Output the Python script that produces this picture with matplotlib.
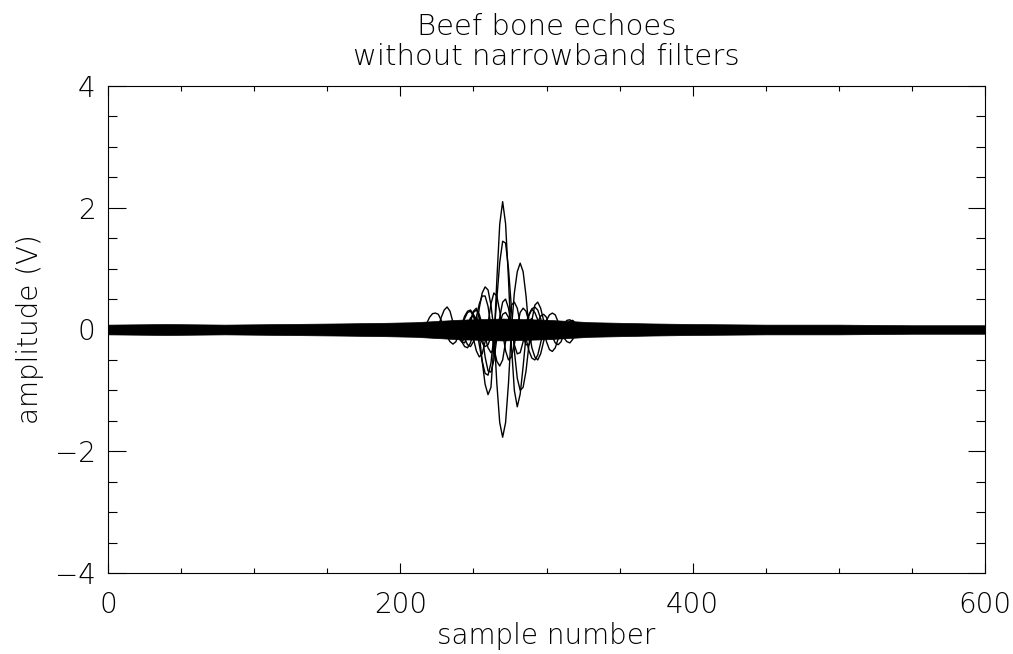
import numpy as np
import matplotlib
matplotlib.use("Agg")
import matplotlib.pyplot as plt
from matplotlib.ticker import MultipleLocator

# ---- data -----------------------------------------------------------------
# envelope of the dense background-noise band (all traces overlaid)
band_samples = [0, 40, 80, 120, 160, 190, 210, 225, 240, 255, 270, 285,
                300, 315, 330, 350, 370, 400, 450, 500, 550, 600]
band_upper = [0.08, 0.09, 0.08, 0.09, 0.10, 0.11, 0.12, 0.14, 0.16, 0.17,
              0.18, 0.17, 0.16, 0.14, 0.12, 0.11, 0.10, 0.09, 0.08, 0.08,
              0.07, 0.07]
band_lower = [-0.08, -0.09, -0.08, -0.09, -0.10, -0.11, -0.12, -0.14, -0.16,
              -0.17, -0.18, -0.17, -0.16, -0.14, -0.12, -0.11, -0.10, -0.09,
              -0.08, -0.08, -0.07, -0.07]

# individual echoes, sampled every 2 samples from their first sample
echo_step = 2

echo_a_start = 242
echo_a = [0.00, 0.03, 0.10, 0.19, 0.24, 0.17, -0.08, -0.52, -0.90, -1.07,
          -0.95, -0.25, 0.80, 1.73, 2.10, 1.74, 0.82, -0.26, -1.00, -1.27,
          -1.06, -0.61, -0.10, 0.23, 0.33, 0.28, 0.16, 0.05, -0.01, -0.03,
          0.00]

echo_b_start = 236
echo_b = [0.02, 0.05, 0.03, -0.05, -0.15, -0.25, -0.28, -0.20, 0.00, 0.35,
          0.60, 0.70, 0.65, 0.40, 0.00, -0.88, -1.53, -1.77, -1.53, -0.88,
          0.00, 0.60, 0.95, 1.09, 0.95, 0.55, 0.00, -0.30, -0.45, -0.50,
          -0.40, -0.20, 0.00, 0.10, 0.12, 0.08, 0.02]

echo_c_start = 240
echo_c = [0.02, 0.08, 0.18, 0.28, 0.30, 0.22, 0.05, -0.25, -0.52, -0.72,
          -0.75, -0.55, -0.10, 0.50, 1.10, 1.45, 1.42, 1.00, 0.35, -0.35,
          -0.80, -1.00, -0.95, -0.68, -0.25, 0.15, 0.40, 0.45, 0.35, 0.15,
          -0.05, -0.15, -0.15, -0.08, 0.00]

echo_d_start = 236
echo_d = [0.03, 0.00, -0.10, -0.20, -0.28, -0.30, -0.22, -0.05, 0.20, 0.42,
          0.55, 0.55, 0.38, 0.05, -0.30, -0.52, -0.60, -0.50, -0.20, 0.15,
          0.40, 0.45, 0.35, 0.10, -0.12, -0.25, -0.25, -0.15, 0.00, 0.08,
          0.05]

echo_e_start = 218
echo_e = [0.10, 0.20, 0.26, 0.27, 0.25, 0.15, 0.00, -0.12, -0.20, -0.24,
          -0.20, -0.08, 0.08, 0.22, 0.30, 0.32, 0.25, 0.10, -0.08, -0.22,
          -0.28, -0.25, -0.12, 0.02, 0.10, 0.12, 0.08, 0.00]

echo_f_start = 226
echo_f = [0.05, 0.20, 0.32, 0.37, 0.30, 0.12, -0.05, -0.15, -0.20, -0.15,
          0.00, 0.15, 0.28, 0.32, 0.25, 0.08, -0.12, -0.30, -0.38, -0.32,
          -0.12, 0.10, 0.25, 0.28, 0.20, 0.05]

echo_g_start = 280
echo_g = [0.00, -0.10, -0.05, 0.10, 0.25, 0.34, 0.37, 0.32, 0.18, 0.00,
          -0.20, -0.33, -0.36, -0.30, -0.15, 0.00, 0.10, 0.15, 0.16, 0.12,
          0.05, -0.02, -0.06, -0.05, 0.00]

echo_h_start = 280
echo_h = [0.05, 0.10, 0.05, -0.15, -0.35, -0.47, -0.50, -0.42, -0.22, 0.00,
          0.15, 0.24, 0.27, 0.24, 0.12, -0.02, -0.14, -0.20, -0.22, -0.16,
          -0.06, 0.02, 0.06, 0.04, 0.00]

echo_i_start = 240
echo_i = [0.00, 0.05, 0.12, 0.15, 0.05, -0.15, -0.35, -0.45, -0.40, -0.20,
          0.10, 0.42, 0.60, 0.55, 0.30, -0.05, -0.35, -0.50, -0.45, -0.25,
          0.05, 0.28, 0.35, 0.30, 0.12, -0.05, -0.15, -0.15, -0.08, 0.00]

echo_j_start = 232
echo_j = [0.00, 0.08, 0.12, 0.05, -0.10, -0.20, -0.22, -0.10, 0.12, 0.30,
          0.35, 0.20, -0.10, -0.45, -0.68, -0.70, -0.50, -0.15, 0.20, 0.45,
          0.50, 0.35, 0.05, -0.25, -0.40, -0.38, -0.20, 0.02, 0.15, 0.18,
          0.10, 0.00]

echo_k_start = 286
echo_k = [0.00, -0.08, -0.10, 0.00, 0.12, 0.22, 0.25, 0.20, 0.05, -0.12,
          -0.22, -0.25, -0.20, -0.06, 0.06, 0.14, 0.15, 0.10, 0.02, -0.04,
          -0.05, -0.02, 0.00]

echoes = [(echo_a_start, echo_a), (echo_b_start, echo_b),
          (echo_c_start, echo_c), (echo_d_start, echo_d),
          (echo_e_start, echo_e), (echo_f_start, echo_f),
          (echo_g_start, echo_g), (echo_h_start, echo_h),
          (echo_i_start, echo_i), (echo_j_start, echo_j),
          (echo_k_start, echo_k)]

x_ticks = [0, 200, 400, 600]
y_ticks = [-4, -2, 0, 2, 4]

# ---- figure ---------------------------------------------------------------
plt.rcParams['font.family'] = ['DejaVu Sans']
plt.rcParams['font.weight'] = 'light'
plt.rcParams['axes.titleweight'] = 'light'
plt.rcParams['axes.labelweight'] = 'light'

fig = plt.figure(figsize=(10.13, 6.54), dpi=100)
ax = fig.add_axes([108 / 1013, 1 - 573 / 654, 877 / 1013, 487 / 654])

ax.fill_between(band_samples, band_lower, band_upper, color='black',
                linewidth=0.5, edgecolor='black')

for start, vals in echoes:
    xs = start + echo_step * np.arange(len(vals))
    ax.plot(xs, vals, color='black', linewidth=1.0)

ax.set_xlim(0, 600)
ax.set_ylim(-4, 4)
ax.set_xticks(x_ticks)
ax.set_yticks(y_ticks)
ax.xaxis.set_minor_locator(MultipleLocator(50))
ax.yaxis.set_minor_locator(MultipleLocator(0.5))

ax.tick_params(which='both', direction='in', top=True, right=True,
               width=0.8, colors='black', labelsize=20)
ax.tick_params(axis='x', which='major', length=7, pad=13)
ax.tick_params(axis='x', which='minor', length=3.5)
ax.tick_params(axis='y', which='major', length=12.6, pad=9)
ax.tick_params(axis='y', which='minor', length=6.3)

for sp in ax.spines.values():
    sp.set_linewidth(0.8)

ax.set_xlabel('sample number', fontsize=20, fontweight='light', labelpad=2)
ax.set_ylabel('amplitude (V)', fontsize=20, fontweight='light', labelpad=8)
ax.set_title('Beef bone echoes\nwithout narrowband filters', fontsize=21,
             fontweight='light', linespacing=1.1, pad=15)

fig.savefig('out.png', dpi=100)
